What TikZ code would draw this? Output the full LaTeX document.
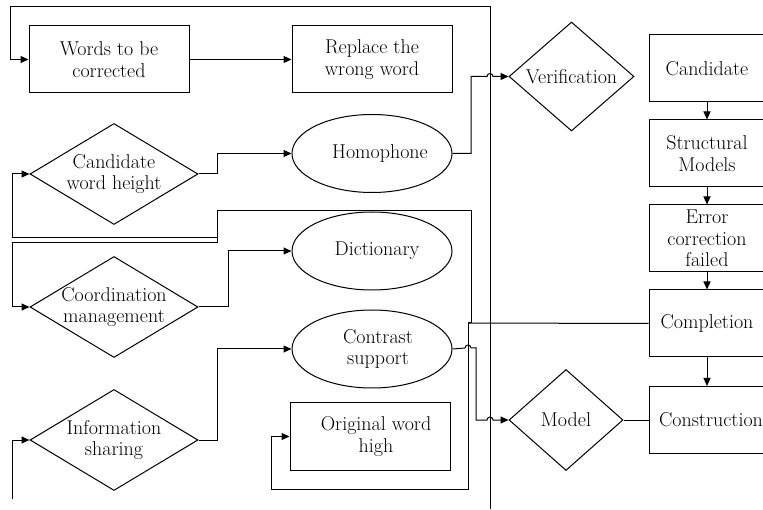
\documentclass[tikz,border=0pt]{standalone}
\usetikzlibrary{shapes.geometric,arrows.meta}
\tikzset{
	txt/.style={font=\fontsize{20}{21.5}\selectfont, align=center, line width=1pt},
	box/.style={txt, draw, rectangle, inner sep=0pt, minimum width=160pt, minimum height=67pt},
	colbox/.style={box, minimum width=116pt},
	oval/.style={txt, draw, ellipse, inner sep=0pt, minimum width=160pt, minimum height=78pt},
	dia/.style={txt, draw, diamond, inner xsep=-18pt, inner ysep=-3pt, aspect=1.66, minimum width=168pt, minimum height=101pt},
	conn/.style={line width=1pt},
	arr/.style={conn, -{Triangle[length=8pt,width=7pt]}}
}
\begin{document}
\begin{tikzpicture}[x=1pt,y=1pt]
	\useasboundingbox (0,0) rectangle (763,509);

	% left part
	\node[box] (words) at (109,449.5) {Words to be\\corrected};
	\node[box] (replace) at (372,449.5) {Replace the\\wrong word};
	\node[dia] (cand) at (114,335) {Candidate\\word height};
	\node[oval] (homo) at (372,355.5) {\hspace*{16pt}Homophone};
	\node[oval] (dict) at (372,258) {\hspace*{10pt}Dictionary};
	\node[dia] (coord) at (114,202) {Coordination\\management};
	\node[oval] (contrast) at (372,160) {\hspace*{12pt}Contrast\\\hspace*{12pt}support};
	\node[dia] (info) at (114,69) {Information\\sharing};
	\node[box] (orig) at (370,72.5) {\hspace*{12pt}Original word\\\hspace*{12pt}high};

	% middle and right part
	\node[dia, aspect=1.15, minimum width=125pt, minimum height=109pt] (verif) at (571.5,432.5) {Verification};
	\node[dia, aspect=1.13, minimum width=114pt, minimum height=101pt] (model) at (566,89) {Model};
	\node[colbox] (candbox) at (707,440.5) {Candidate};
	\node[colbox] (struct) at (707,355.5) {Structural\\Models};
	\node[colbox] (error) at (707,270.5) {Error\\correction\\failed};
	\node[colbox] (compl) at (707,185.5) {Completion};
	\node[colbox] (constr) at (707,89) {\hspace*{8pt}Construction};

	\coordinate (framebot) at (490,0);
	\coordinate (leftbot) at (12,10);
	\coordinate (dbltop) at (12,271);
	\coordinate (dblbot) at (12,266);
	\coordinate (loop) at (468,186);

	\draw[arr] (framebot) -- (490,502) -- (10,502) |- (words.west);
	\draw[arr] (words.east) -- (replace.west);
	\draw[arr] (cand.east) -- (217,335) |- (homo.west);
	\draw[arr] (homo.east) -- (471,355.5) |- (487,432.5) arc[start angle=180, end angle=0, radius=3] -- (verif.west);
	\draw[conn] (dbltop) -- (217,271);
	\draw[conn] (dblbot) -- (217,266) -- (217,298) -| (471,186) -- (loop);
	\draw[conn] (loop) -- (compl.west);
	\draw[arr] (dbltop) |- (cand.west);
	\draw[arr] (dblbot) |- (coord.west);
	\draw[arr] (coord.east) -- (228,202) |- (dict.west);
	\draw[arr] (info.east) -- (217,69) |- (contrast.west);
	\draw[arr] (leftbot) |- (info.west);
	\draw[arr] (contrast.east) -- (465,161) arc[start angle=180, end angle=0, radius=3] -- (476,161) -- (476,89) -- (487,89) arc[start angle=180, end angle=0, radius=3] -- (model.west);
	\draw[arr] (loop) -- (468,20) -| (271,72.5) -- (orig.west);
	\draw[conn] (model.east) -- (constr.west);

	\draw[arr] (candbox.south) -- (struct.north);
	\draw[arr] (struct.south) -- (error.north);
	\draw[arr] (error.south) -- (compl.north);
	\draw[arr] (compl.south) -- (constr.north);
\end{tikzpicture}
\end{document}
